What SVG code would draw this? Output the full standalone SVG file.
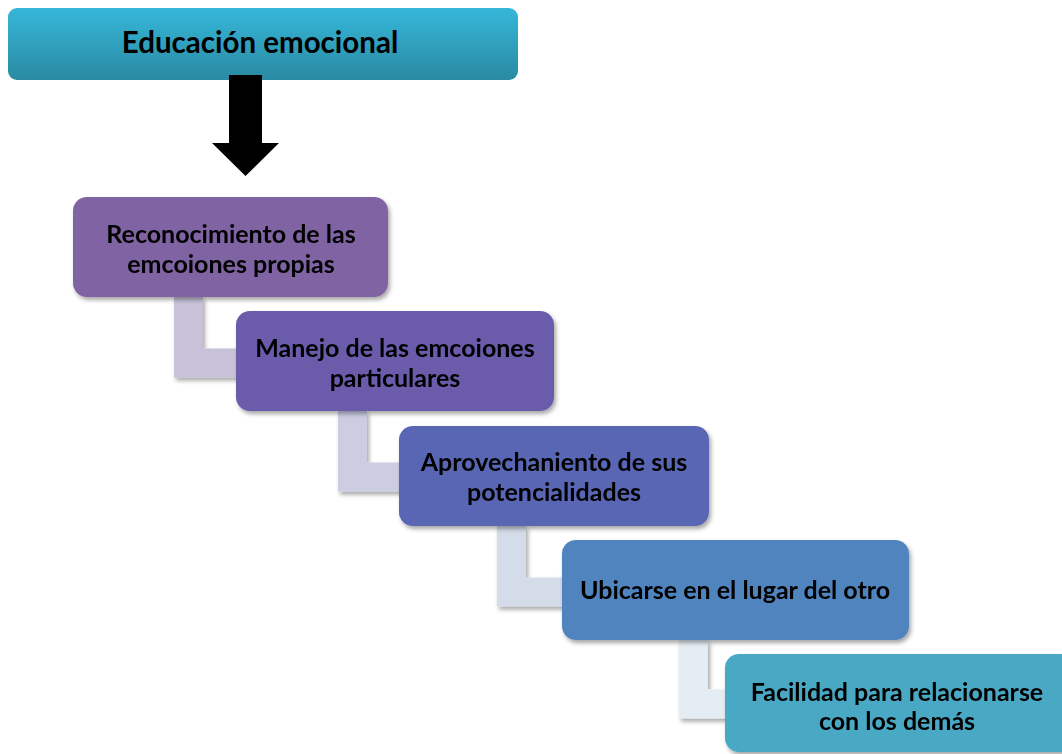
<svg xmlns="http://www.w3.org/2000/svg" width="1062" height="754" viewBox="0 0 1062 754">
<defs>
<linearGradient id="gTop" x1="0" y1="0" x2="0" y2="1">
<stop offset="0" stop-color="#36b7d9"/>
<stop offset="1" stop-color="#2a8aa2"/>
</linearGradient>
<filter id="sh" x="-10%" y="-10%" width="125%" height="130%">
<feDropShadow dx="2" dy="3" stdDeviation="2" flood-color="#000" flood-opacity="0.35"/>
</filter>
</defs>
<style>
text{font-family:Lato,"Open Sans","Liberation Sans",sans-serif;font-weight:bold;fill:#000;text-anchor:middle}
.t{font-size:25px}
.conn path{fill:none;stroke-width:29;stroke-linejoin:miter;stroke-linecap:butt}
</style>
<rect width="1062" height="754" fill="#fff"/>
<g id="connectors" class="conn" filter="url(#sh)">
<path d="M188.5 297 V363 H240" stroke="#c8c2d9"/>
<path d="M352.5 411 V477 H404" stroke="#cccde3"/>
<path d="M511.5 526 V592 H566" stroke="#d4dbe9"/>
<path d="M693.5 640 V704 H730" stroke="#e5edf4"/>
</g>
<g id="top">
<rect x="8" y="8" width="510" height="72" rx="9" fill="url(#gTop)"/>
<text x="260" y="53" style="font-size:29.5px">Educación emocional</text>
</g>
<g id="arrow">
<polygon points="229,75 262,75 262,143 279,143 245.5,176 212,143 229,143" fill="#000"/>
</g>
<g id="n1" filter="url(#sh)">
<rect x="73" y="197" width="315" height="100" rx="14" fill="#7f63a3"/>
<text class="t" x="231" y="243">Reconocimiento de las</text>
<text class="t" x="231" y="273">emcoiones propias</text>
</g>
<g id="n2" filter="url(#sh)">
<rect x="236" y="311" width="318" height="100" rx="14" fill="#6a5bab"/>
<text class="t" x="395" y="357">Manejo de las emcoiones</text>
<text class="t" x="395" y="387">particulares</text>
</g>
<g id="n3" filter="url(#sh)">
<rect x="399" y="426" width="310" height="100" rx="14" fill="#5866b4"/>
<text class="t" x="554" y="471">Aprovechaniento de sus</text>
<text class="t" x="554" y="501">potencialidades</text>
</g>
<g id="n4" filter="url(#sh)">
<rect x="562" y="540" width="347" height="100" rx="14" fill="#4f84bf"/>
<text class="t" x="735" y="599">Ubicarse en el lugar del otro</text>
</g>
<g id="n5" filter="url(#sh)">
<rect x="725" y="654" width="350" height="98" rx="14" fill="#4aa9c5"/>
<text class="t" x="897" y="701">Facilidad para relacionarse</text>
<text class="t" x="897" y="730">con los demás</text>
</g>
</svg>
